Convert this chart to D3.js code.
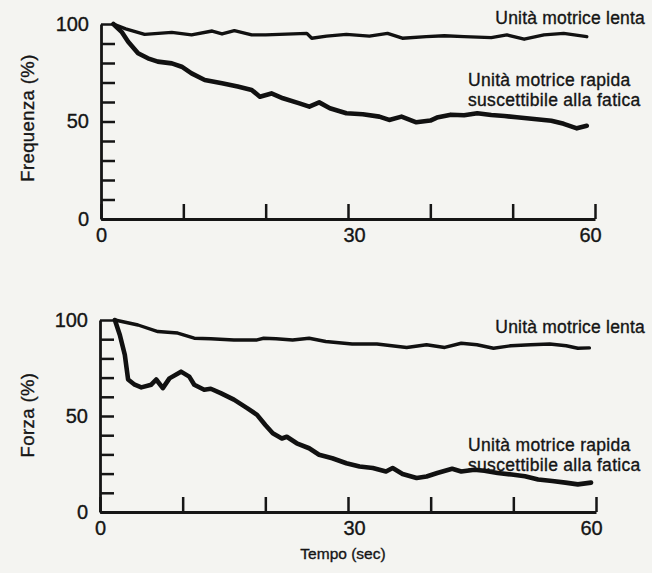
<!DOCTYPE html>
<html><head><meta charset="utf-8">
<script src="https://cdn.jsdelivr.net/npm/d3@7/dist/d3.min.js"></script>
<style>
html,body{margin:0;padding:0;background:#f4f4f1;}
svg{display:block;}
text{font-family:"Liberation Sans",Arial,Helvetica,sans-serif;fill:#151515;stroke:#151515;stroke-width:0.35px;}
</style></head>
<body>
<script>
// ---- data (time in sec, value in %) ----
const freqSlowT = [1.5,3,5.3,8.6,11,13.5,14.7,16.2,18.3,20,25,25.6,27.4,29.8,32.6,34.8,36.6,39.5,41.7,44.1,47.4,49.3,51.4,53.8,56.2,59];
const freqSlowV = [100,97.5,94.7,95.7,94.4,96.4,94.9,96.6,94.4,94.4,95.2,92.7,93.8,94.7,93.8,95.2,92.7,93.5,94,93.5,93,94.4,92.2,94.4,95.2,93.5];
const freqFastT = [1.5,2.5,3.3,4.5,5.7,6.9,8.6,9.8,11,12.6,14.7,16.6,18.3,19.3,20.7,22.1,24.1,25.3,26.5,27.8,29.8,31.8,33.8,35,36.5,38.3,40,40.8,42.5,44.1,45.7,47.4,49,50.5,52.6,54.7,56.2,57.8,59];
const freqFastV = [100,96,90.9,85,82.4,80.7,79.8,78.1,74.7,71.3,69.6,67.9,66.2,62.7,64.4,61.9,59.3,57.6,59.8,56.8,54.2,53.7,52.5,50.8,52.5,49.6,50.5,52,53.5,53.2,54.2,53.3,52.8,52.2,51.3,50.4,48.8,46.5,47.8];
const forceSlowT = [1.8,4.6,7,9.4,11.4,13.4,16.2,19,19.8,21.3,23.3,25.3,27.3,30.5,33.5,37.1,39.5,41.7,43.7,45.6,47.6,49.7,52.1,54.4,56.4,57.8,59.2];
const forceSlowV = [100,97.4,94,93.2,90.5,90.2,89.6,89.6,90.5,90.2,89.6,90.5,88.8,87.5,87.5,85.7,87.1,85.7,87.9,87.1,85.3,86.6,87.1,87.5,86.6,85.3,85.5];
const forceFastT = [1.8,2.4,3,3.4,4.2,5,6.2,6.8,7.6,8.4,9.8,10.8,11.4,12.6,13.4,14.6,16.2,17.8,19,20,20.9,22,22.6,23.8,25.3,26.5,28.1,29.8,31.4,33,34.6,35.4,36.6,38.3,39.5,40.8,42.6,43.7,45.3,46.5,48.1,49.8,51.4,53,54.7,56.3,57.8,59.4];
const forceFastV = [100,92.2,81.9,69,66.3,64.9,66.3,69,64.5,69.6,73.1,70.5,66.3,63.7,64.2,61.9,58.5,54.1,50.6,45.3,41,38.3,39.2,35.8,33.2,29.8,28,25.4,23.7,22.9,21.1,22.9,19.8,17.7,18.5,20.3,22.5,21.1,22,21.5,20.3,19.5,18.6,16.9,16.1,15.3,14.4,15.3];

const xTicks = [0,10,20,30,40,50,60];
const xLabels = [0,30,60];
const yTicks = [0,10,20,30,40,50,60,70,80,90,100];
const yLabels = [0,50,100];
const yTitles = ["Frequenza (%)","Forza (%)"];
const xTitle = "Tempo (sec)";
const slowLabel = ["Unità motrice lenta"];
const fastLabel = ["Unità motrice rapida","suscettibile alla fatica"];

const W = 652, H = 573;
const svg = d3.select("body").append("svg").attr("width",W).attr("height",H);
svg.append("rect").attr("width",W).attr("height",H).attr("fill","#f4f4f1");

const panels = [
  {x:[101,595], y:[219,24], slow:[freqSlowT,freqSlowV], fast:[freqFastT,freqFastV], title:yTitles[0], titleY:118,
   slowLblY:24, fastLblY:[86,106]},
  {x:[100,596], y:[512,320], slow:[forceSlowT,forceSlowV], fast:[forceFastT,forceFastV], title:yTitles[1], titleY:415,
   slowLblY:333, fastLblY:[451,471]}
];

panels.forEach(p => {
  const x = d3.scaleLinear().domain([0,60]).range(p.x);
  const y = d3.scaleLinear().domain([0,100]).range(p.y);
  const g = svg.append("g");

  const yAxis = d3.axisLeft(y).tickValues(yTicks).tickSizeInner(-14).tickSizeOuter(0).tickPadding(12)
    .tickFormat(d => yLabels.includes(d) ? d : "");
  const ya = g.append("g").attr("transform",`translate(${p.x[0]},0)`).call(yAxis);
  const xAxis = d3.axisBottom(x).tickValues(xTicks).tickSizeInner(-15).tickSizeOuter(0).tickPadding(9)
    .tickFormat(d => xLabels.includes(d) ? d : "");
  const xa = g.append("g").attr("transform",`translate(0,${p.y[0]})`).call(xAxis);
  [ya,xa].forEach(a => {
    a.select(".domain").attr("stroke","#151515").attr("stroke-width",2.8);
    a.selectAll(".tick line").attr("stroke","#151515").attr("stroke-width",2.5);
    a.selectAll(".tick text").attr("font-size",20).attr("fill","#151515")
      .style("font-family","'Liberation Sans',Arial,sans-serif");
  });
  xa.selectAll(".tick text").attr("dx", d => d===30 ? 6 : (d===60 ? -5 : 0));

  const line = d3.line().x(d => x(d[0])).y(d => y(d[1]));
  const slowData = p.slow[0].map((t,i)=>[t,p.slow[1][i]]);
  const fastData = p.fast[0].map((t,i)=>[t,p.fast[1][i]]);
  g.append("path").datum(slowData).attr("d",line).attr("fill","none")
    .attr("stroke","#111").attr("stroke-width",3.4).attr("stroke-linejoin","round").attr("stroke-linecap","round");
  g.append("path").datum(fastData).attr("d",line).attr("fill","none")
    .attr("stroke","#111").attr("stroke-width",4.6).attr("stroke-linejoin","round").attr("stroke-linecap","round");

  g.append("text").attr("transform",`translate(34,${p.titleY}) rotate(-90)`)
    .attr("text-anchor","middle").attr("font-size",18.5).attr("letter-spacing",0.4).text(p.title);

  g.append("text").attr("x",645).attr("y",p.slowLblY).attr("text-anchor","end")
    .attr("font-size",17.5).attr("letter-spacing",0.2).text(slowLabel[0]);
  fastLabel.forEach((s,i)=>{
    g.append("text").attr("x",468).attr("y",p.fastLblY[i]).attr("text-anchor","start")
      .attr("font-size",17.5).attr("letter-spacing",0.3).text(s);
  });
});

svg.append("text").attr("x",343).attr("y",559).attr("text-anchor","middle")
  .attr("font-size",15.5).text(xTitle);
</script>
</body></html>
